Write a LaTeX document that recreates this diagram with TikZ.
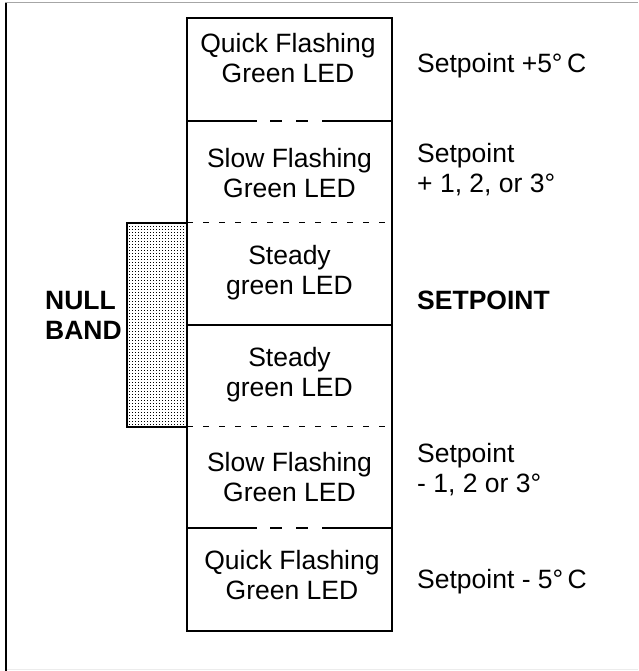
\documentclass[tikz,border=0pt]{standalone}
\usepackage{fontspec}
\setmainfont{Liberation Sans}
\usetikzlibrary{patterns}
% stipple for the null band
\pgfdeclarepatternformonly{nulldots}{\pgfpointorigin}{\pgfqpoint{3pt}{3pt}}{\pgfqpoint{3pt}{3pt}}{%
  \pgfpathrectangle{\pgfpointorigin}{\pgfqpoint{1.1pt}{1.1pt}}\pgfusepath{fill}}

\begin{document}
\begin{tikzpicture}[x=1pt, y=-1pt, font=\fontsize{26.5}{30}\selectfont,
    ledtext/.style={align=center, inner sep=0pt},
    sptext/.style={align=left, anchor=west, inner sep=0pt},
    divline/.style={line width=1.2pt},
    gapline/.style={divline, dash pattern=on 70pt off 13pt on 12pt off 14pt on 12pt off 14pt on 70pt},
    dotline/.style={line width=1pt, dash pattern=on 6pt off 10pt}]
  \useasboundingbox (0,0) rectangle (638,671);
  % outer frame
  \draw[line width=1.8pt] (6,3) -- (6,671);
  \draw[gray!70, line width=1pt] (5,3) -- (638,3);
  \draw[gray!15, line width=1pt] (7,669.5) -- (638,669.5);
  % null band
  \draw[line width=1.2pt, pattern=nulldots] (127,223) rectangle (187,427);
  % column and its dividers
  \draw[divline] (187,18) rectangle (392,631);
  \draw[gapline] (187,121) -- (392,121);
  \draw[dotline] (187,222) -- (392,222);
  \draw[divline] (187,325) -- (392,325);
  \draw[dotline] (187,426) -- (392,426);
  \draw[gapline] (187,528) -- (392,528);
  % LED states
  \node[ledtext] (quickup) at (288,58) {Quick Flashing\\Green LED};
  \node[ledtext] (slowup) at (289.5,173) {Slow Flashing\\Green LED};
  \node[ledtext] (steadyup) at (289.5,273) {Steady\\green LED};
  \node[ledtext] (steadydn) at (289.5,375) {Steady\\green LED};
  \node[ledtext] (slowdn) at (289.5,477) {Slow Flashing\\Green LED};
  \node[ledtext] (quickdn) at (292,575) {Quick Flashing\\Green LED};
  % setpoint labels
  \node[sptext] (spup5) at (417,66) {Setpoint +5°\,C};
  \node[sptext] (spup3) at (417,170) {Setpoint\\+ 1, 2, or 3°};
  \node[sptext, font=\fontsize{26.5}{30}\selectfont\bfseries] (sp) at (417,300) {SETPOINT};
  \node[sptext] (spdn3) at (417,470) {Setpoint\\- 1, 2 or 3°};
  \node[sptext] (spdn5) at (417,582) {Setpoint - 5°\,C};
  \node[sptext, font=\fontsize{26.5}{30}\selectfont\bfseries] (nullband) at (45,315) {NULL\\BAND};
\end{tikzpicture}
\end{document}
